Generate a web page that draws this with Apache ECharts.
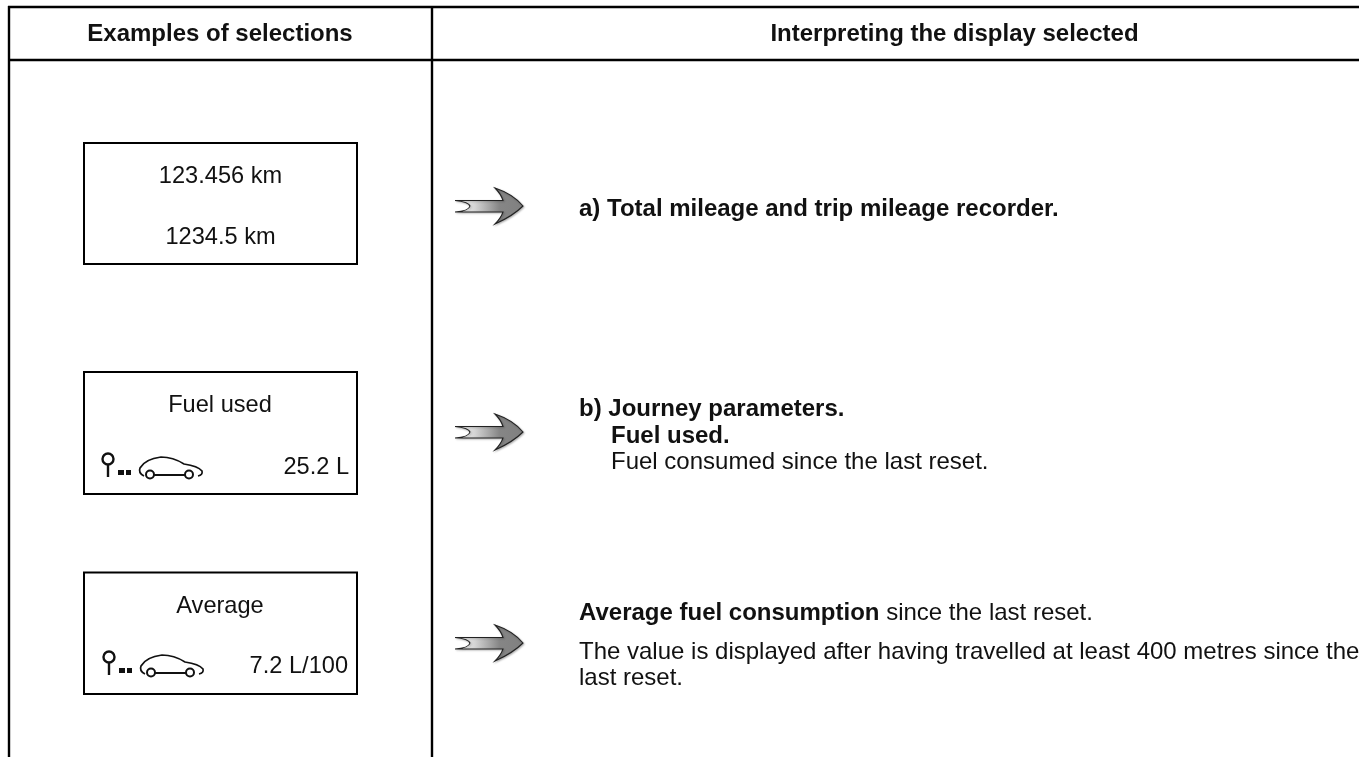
<!DOCTYPE html>
<html>
<head>
<meta charset="utf-8">
<style>
  html, body { margin: 0; padding: 0; background: #fff; }
  #chart { width: 1359px; height: 757px; }
</style>
<script src="https://cdn.jsdelivr.net/npm/echarts@6/dist/echarts.min.js"></script>
</head>
<body>
<div id="chart"></div>
<script>
const headers = ['Examples of selections', 'Interpreting the display selected']
const odometerLines = ['123.456 km', '1234.5 km']
const displayTitles = ['Fuel used', 'Average']
const displayValues = ['25.2 L', '7.2 L/100']
const textA = 'a) Total mileage and trip mileage recorder.'
const textB = ['b) Journey parameters.', 'Fuel used.', 'Fuel consumed since the last reset.']
const textAvgBold = 'Average fuel consumption'
const textAvgRest = ' since the last reset.'
const textAvgNote = ['The value is displayed after having travelled at least 400 metres since the', 'last reset.']

const FONT = '"Liberation Sans", Arial, sans-serif'
const INK = '#111'
const BODY = 24
const BOX_TEXT = 23.6

// the arrow and the car are not stock shapes in the graphic component
echarts.graphic.registerShape('selArrow', echarts.graphic.extendShape({
  shape: {},
  buildPath(ctx) {
    ctx.moveTo(0, -5.5)
    ctx.lineTo(48, -5.5)
    ctx.quadraticCurveTo(46, -12, 40, -18)
    ctx.quadraticCurveTo(58, -12, 68, 0)
    ctx.quadraticCurveTo(58, 10, 40, 18)
    ctx.quadraticCurveTo(46, 12, 48, 6)
    ctx.lineTo(0, 6)
    ctx.quadraticCurveTo(14, 5, 15, 0)
    ctx.quadraticCurveTo(14, -4, 0, -5.5)
    ctx.closePath()
  }
}))
echarts.graphic.registerShape('carBody', echarts.graphic.extendShape({
  shape: {},
  buildPath(ctx) {
    ctx.moveTo(36, 17)
    ctx.quadraticCurveTo(30, 14, 32, 9)
    ctx.quadraticCurveTo(37, 0, 53, -2)
    ctx.quadraticCurveTo(65, -2, 76, 5)
    ctx.quadraticCurveTo(90, 7, 94, 12)
    ctx.quadraticCurveTo(95, 16, 90, 17)
  }
}))

const hLine = (x1, x2, y, w) => ({
  type: 'line', shape: { x1, y1: y, x2, y2: y },
  style: { stroke: '#000', lineWidth: w }
})
const vLine = (x, y1, y2, w) => ({
  type: 'line', shape: { x1: x, y1, x2: x, y2 },
  style: { stroke: '#000', lineWidth: w }
})
const label = (text, x, y, opts = {}) => ({
  type: 'text', x, y,
  style: {
    text, fill: INK, font: `${opts.bold ? 'bold ' : ''}${opts.size || BODY}px ${FONT}`,
    textAlign: opts.align || 'left', textVerticalAlign: 'middle'
  }
})
const box = (x, y, w, h) => ({
  type: 'rect', shape: { x, y, width: w, height: h },
  style: { fill: '#fff', stroke: '#000', lineWidth: 2 }
})

const arrow = (x, y) => ({
  type: 'selArrow', x, y,
  style: {
    fill: new echarts.graphic.LinearGradient(0, 0, 1, 0, [
      { offset: 0, color: '#ffffff' },
      { offset: 0.3, color: '#d4d4d4' },
      { offset: 0.65, color: '#868686' },
      { offset: 1, color: '#808080' }
    ]),
    stroke: '#222', lineWidth: 1.1,
    shadowColor: 'rgba(0,0,0,0.25)', shadowBlur: 2, shadowOffsetX: 1, shadowOffsetY: 1
  }
})

// journey icon: pin, two dots and the car outline
const journeyIcon = (x, y) => ({
  type: 'group', x, y,
  children: [
    { type: 'circle', shape: { cx: 0, cy: 0, r: 5.5 }, style: { fill: 'none', stroke: '#111', lineWidth: 2.4 } },
    { type: 'line', shape: { x1: 0, y1: 6, x2: 0, y2: 18 }, style: { stroke: '#111', lineWidth: 2.4 } },
    { type: 'rect', shape: { x: 10, y: 11, width: 6, height: 5 }, style: { fill: '#111' } },
    { type: 'rect', shape: { x: 18, y: 11, width: 5, height: 5 }, style: { fill: '#111' } },
    { type: 'carBody', style: { fill: 'none', stroke: '#111', lineWidth: 1.7 } },
    { type: 'circle', shape: { cx: 42, cy: 15.5, r: 4 }, style: { fill: 'none', stroke: '#111', lineWidth: 2 } },
    { type: 'circle', shape: { cx: 81, cy: 15.5, r: 4 }, style: { fill: 'none', stroke: '#111', lineWidth: 2 } },
    { type: 'line', shape: { x1: 46, y1: 16, x2: 77, y2: 16 }, style: { stroke: '#111', lineWidth: 2 } }
  ]
})

const chart = echarts.init(document.getElementById('chart'), null, { renderer: 'canvas' })

chart.setOption({
  backgroundColor: '#fff',
  animation: false,
  graphic: {
    elements: [
      // table frame
      hLine(8, 1359, 7, 2.4),
      hLine(8, 1359, 60, 2.4),
      vLine(9, 6, 757, 2.4),
      vLine(432, 6, 757, 2.4),

      label(headers[0], 220, 34.5, { bold: true, size: 24, align: 'center' }),
      label(headers[1], 954.5, 34.5, { bold: true, size: 24, align: 'center' }),

      // left column displays
      box(84, 143, 273, 121),
      label(odometerLines[0], 220.5, 176, { align: 'center', size: BOX_TEXT }),
      label(odometerLines[1], 220.5, 237, { align: 'center', size: BOX_TEXT }),

      box(84, 372, 273, 122),
      label(displayTitles[0], 220, 405, { align: 'center', size: BOX_TEXT }),
      journeyIcon(108, 459),
      label(displayValues[0], 349, 467, { align: 'right', size: BOX_TEXT }),

      box(84, 572.5, 273, 121.5),
      label(displayTitles[1], 220, 606, { align: 'center', size: BOX_TEXT }),
      journeyIcon(109, 657),
      label(displayValues[1], 348, 666, { align: 'right', size: BOX_TEXT }),

      // arrows
      arrow(455, 206),
      arrow(455, 432),
      arrow(455, 643),

      // right column
      label(textA, 579, 209.5, { bold: true }),
      label(textB[0], 579, 409.5, { bold: true }),
      label(textB[1], 611, 436.5, { bold: true }),
      label(textB[2], 611, 462.5),
      {
        type: 'text', x: 579, y: 613.5,
        style: {
          text: `{b|${textAvgBold}}{n|${textAvgRest}}`,
          verticalAlign: 'middle',
          rich: {
            b: { fontFamily: FONT, fontWeight: 'bold', fontSize: BODY, fill: INK },
            n: { fontFamily: FONT, fontSize: BODY, fill: INK }
          }
        }
      },
      label(textAvgNote[0], 579, 652.5),
      label(textAvgNote[1], 579, 678.5)
    ]
  }
})
</script>
</body>
</html>
